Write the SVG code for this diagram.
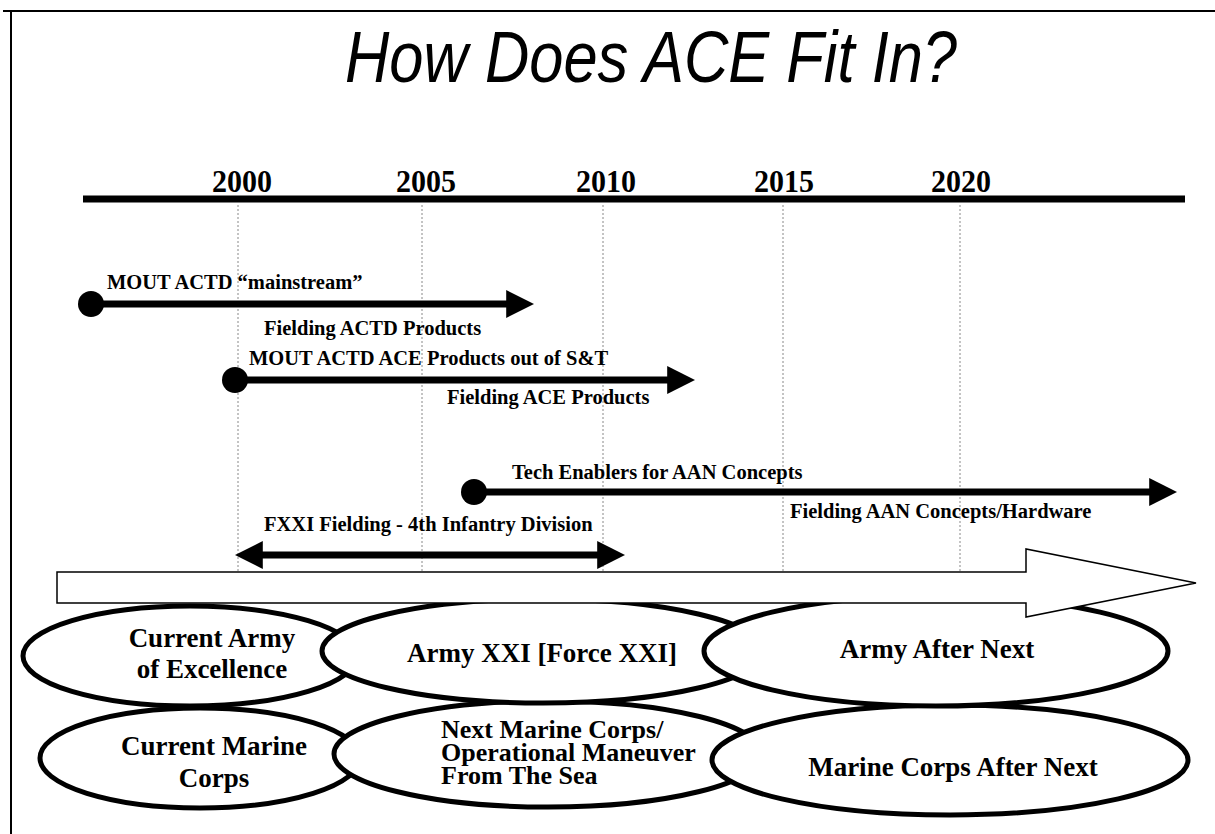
<svg xmlns="http://www.w3.org/2000/svg" width="1215" height="834" viewBox="0 0 1215 834">
  <style>
    .title { font-family: "Liberation Sans", Arial, sans-serif; font-style: italic; font-size: 72px; fill: #000; }
    .year { font-family: "Liberation Serif", "Times New Roman", serif; font-weight: bold; font-size: 31px; fill: #000; }
    .lbl { font-family: "Liberation Serif", "Times New Roman", serif; font-weight: bold; font-size: 20.5px; fill: #000; }
    .era { font-family: "Liberation Serif", "Times New Roman", serif; font-weight: bold; font-size: 27px; fill: #000; text-anchor: middle; }
    .eraL { font-family: "Liberation Serif", "Times New Roman", serif; font-weight: bold; font-size: 26px; fill: #000; }
    .grid { stroke: #888; stroke-width: 1; stroke-dasharray: 2 2; fill: none; }
    .bar { stroke: #000; stroke-width: 7; fill: none; }
    .ell { fill: #fff; stroke: #000; stroke-width: 5; }
  </style>
  <defs>
    <marker id="head" viewBox="0 0 10 10" refX="1" refY="5" markerWidth="4" markerHeight="4" markerUnits="strokeWidth" orient="auto-start-reverse">
      <path d="M0,0 L10,5 L0,10 z" fill="#000"/>
    </marker>
  </defs>

  <rect width="1215" height="834" fill="#fff"/>

  <!-- page frame -->
  <g id="frame" stroke="#000" stroke-width="2" fill="none">
    <path d="M3,11 H1215"/>
    <path d="M11,11 V834"/>
  </g>

  <text id="title" class="title" x="345" y="82" textLength="612" lengthAdjust="spacingAndGlyphs">How Does ACE Fit In?</text>

  <!-- timeline axis -->
  <g id="axis">
    <path d="M83,199 H1185" stroke="#000" stroke-width="7"/>
    <text class="year" x="212" y="192" textLength="60" lengthAdjust="spacingAndGlyphs">2000</text>
    <text class="year" x="396" y="192" textLength="60" lengthAdjust="spacingAndGlyphs">2005</text>
    <text class="year" x="576" y="192" textLength="60" lengthAdjust="spacingAndGlyphs">2010</text>
    <text class="year" x="754" y="192" textLength="60" lengthAdjust="spacingAndGlyphs">2015</text>
    <text class="year" x="931" y="192" textLength="60" lengthAdjust="spacingAndGlyphs">2020</text>
  </g>

  <!-- year grid -->
  <g id="grid" class="grid">
    <path d="M238,205 V572"/>
    <path d="M422,205 V572"/>
    <path d="M603,205 V572"/>
    <path d="M783,205 V572"/>
    <path d="M960,205 V572"/>
  </g>

  <!-- programme bars -->
  <g id="connectors">
    <g id="mainstream">
      <circle cx="91" cy="304" r="13"/>
      <path class="bar" d="M91,304 H509" marker-end="url(#head)"/>
      <text class="lbl" x="107" y="289">MOUT ACTD “mainstream”</text>
      <text class="lbl" x="264" y="335">Fielding ACTD Products</text>
    </g>
    <g id="ace-products">
      <circle cx="235" cy="380" r="13"/>
      <path class="bar" d="M235,380 H670" marker-end="url(#head)"/>
      <text class="lbl" x="249" y="365">MOUT ACTD ACE Products out of S&amp;T</text>
      <text class="lbl" x="447" y="404">Fielding ACE Products</text>
    </g>
    <g id="aan">
      <circle cx="474" cy="492" r="13"/>
      <path class="bar" d="M474,492 H1152" marker-end="url(#head)"/>
      <text class="lbl" x="512" y="479">Tech Enablers for AAN Concepts</text>
      <text class="lbl" x="790" y="518">Fielding AAN Concepts/Hardware</text>
    </g>
    <g id="fxxi">
      <path class="bar" d="M260,555 H600" marker-start="url(#head)" marker-end="url(#head)"/>
      <text class="lbl" x="264" y="531">FXXI Fielding - 4th Infantry Division</text>
    </g>
  </g>

  <!-- force eras, lower row -->
  <g id="current-marine-corps">
    <ellipse class="ell" cx="200" cy="758" rx="160" ry="50"/>
    <text class="era" x="214" y="755">Current Marine</text>
    <text class="era" x="214" y="787">Corps</text>
  </g>
  <g id="next-marine-corps">
    <ellipse class="ell" cx="548" cy="754" rx="214" ry="53"/>
    <text class="eraL" x="441" y="738">Next Marine Corps/</text>
    <text class="eraL" x="441" y="761">Operational Maneuver</text>
    <text class="eraL" x="441" y="784">From The Sea</text>
  </g>
  <g id="marine-corps-after-next">
    <ellipse class="ell" cx="950" cy="760" rx="238" ry="55"/>
    <text class="era" x="953" y="776">Marine Corps After Next</text>
  </g>

  <!-- force eras, upper row -->
  <g id="current-army">
    <ellipse class="ell" cx="190" cy="656" rx="167" ry="50"/>
    <text class="era" x="212" y="647">Current Army</text>
    <text class="era" x="212" y="678">of Excellence</text>
  </g>
  <g id="army-xxi">
    <ellipse class="ell" cx="543" cy="651" rx="221" ry="52"/>
    <text class="era" x="542" y="662">Army XXI [Force XXI]</text>
  </g>
  <g id="army-after-next">
    <ellipse class="ell" cx="936" cy="651" rx="232" ry="55"/>
    <text class="era" x="937" y="658">Army After Next</text>
  </g>

  <!-- block arrow for the overall transition -->
  <g id="transition-arrow">
    <path d="M57,572 H1026 V549 L1196,583 L1026,617 V603 H57 Z" fill="#fff" stroke="#000" stroke-width="1.5"/>
  </g>
</svg>
